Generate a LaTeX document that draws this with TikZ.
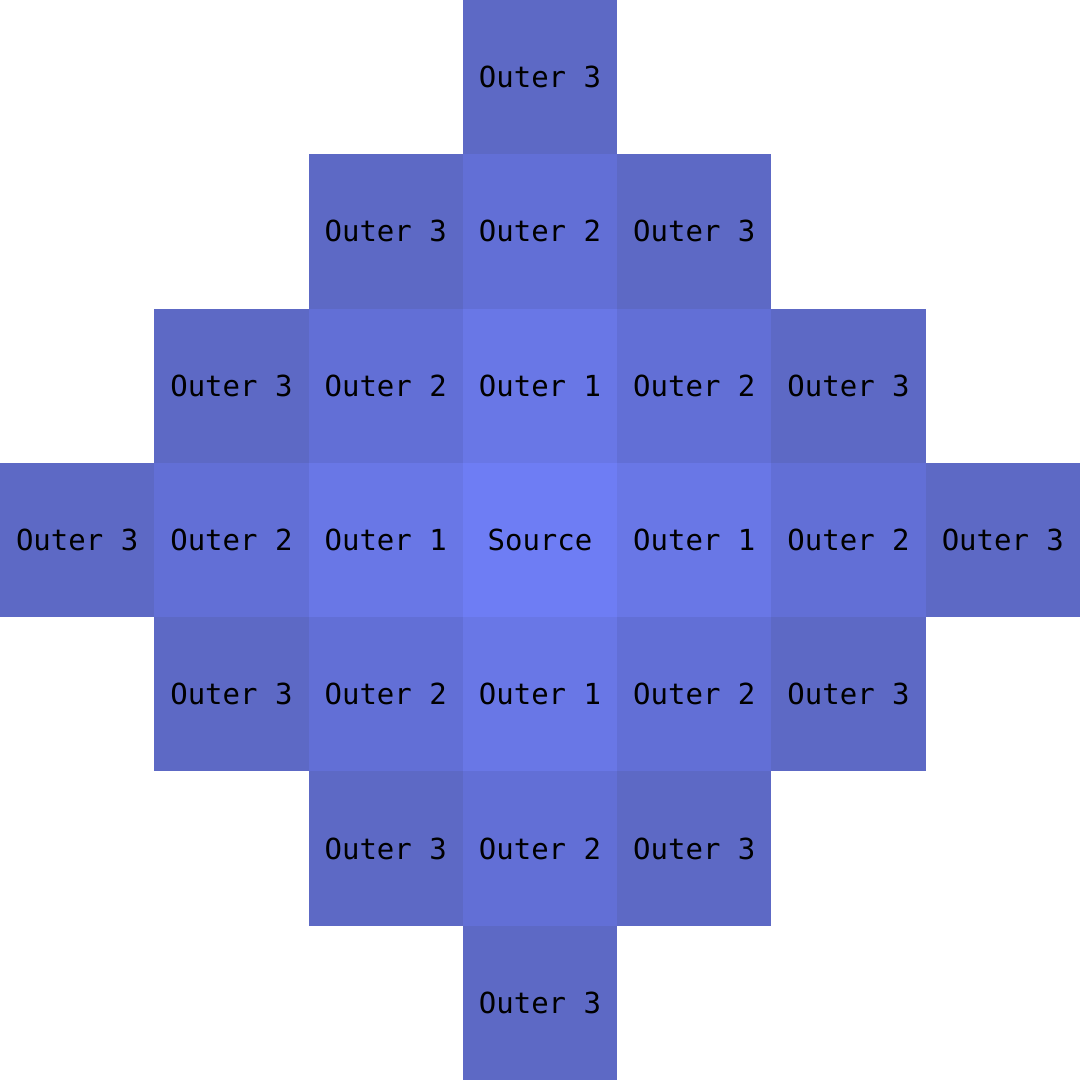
\documentclass[tikz,border=0pt]{standalone}
\usepackage{fontspec}
\newfontfamily\cellfont{DejaVu Sans Mono}
\definecolor{c0}{HTML}{6E7DF4}
\definecolor{c1}{HTML}{6977E6}
\definecolor{c2}{HTML}{626FD6}
\definecolor{c3}{HTML}{5D69C5}
\tikzset{
  cellbox/.style={minimum width=154.29pt, minimum height=154.29pt, inner sep=0pt, outer sep=0pt, font=\cellfont\fontsize{29}{29}\selectfont, text=black}
}
\begin{document}
\begin{tikzpicture}[x=154.2857pt,y=154.2857pt]
\useasboundingbox (-3.5,-3.5) rectangle (3.5,3.5);
\foreach \i in {-3,...,3}{
  \foreach \j in {-3,...,3}{
    \pgfmathtruncatemacro{\d}{abs(\i)+abs(\j)}
    \ifnum\d<4
      \ifnum\d=0
        \node[cellbox, fill=c0] (cell\i\j) at (\i,\j) {Source};
      \else
        \node[cellbox, fill=c\d] (cell\i\j) at (\i,\j) {Outer \d};
      \fi
    \fi
  }
}
\end{tikzpicture}
\end{document}
